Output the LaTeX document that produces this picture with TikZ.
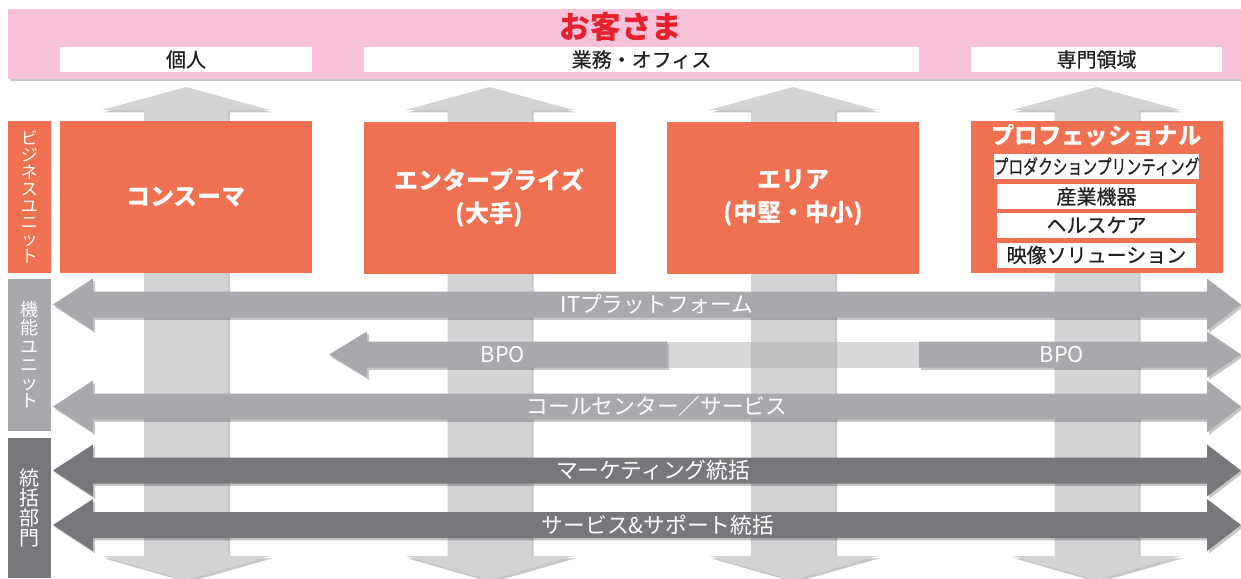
\documentclass[tikz,border=0pt]{standalone}
\usepackage{fontspec}
\setmainfont{Noto Sans CJK JP}
\usetikzlibrary{shadows}
\definecolor{bandpink}{HTML}{F6C1D9}
\definecolor{titlered}{HTML}{E6212B}
\definecolor{unitorange}{HTML}{F07052}
\definecolor{funcgray}{HTML}{A7A9AC}
\definecolor{hqgray}{HTML}{77787B}
\definecolor{pillargray}{HTML}{D1D3D4}
\definecolor{inkblack}{HTML}{231F20}
\newcommand{\pillar}[1]{\fill[pillargray, softshadow] (#1-42,110) -- (#1-84,110) -- (#1,87) -- (#1+84,110) -- (#1+42,110) -- (#1+42,556) -- (#1+84,556) -- (#1,580) -- (#1-84,556) -- (#1-42,556) -- cycle;}
\newcommand{\flowarrow}[4]{\fill[#1, softshadow] (#3,#2) -- (#4,#2-26) -- (#4,#2-13) -- (1207,#2-13) -- (1207,#2-26) -- (1241,#2) -- (1207,#2+26) -- (1207,#2+13) -- (#4,#2+13) -- (#4,#2+26) -- cycle;}
\tikzset{
  softshadow/.style={drop shadow={shadow xshift=1.5pt, shadow yshift=-1.8pt, opacity=0.22, fill=black}},
  unitbox/.style={fill=unitorange, text=white, minimum width=189pt, minimum height=114pt, align=center, inner sep=0pt, font=\fontsize{18}{25}\selectfont\bfseries},
  sidebox/.style={minimum width=32.25pt, text=white, align=center, inner sep=0pt},
  bandlabel/.style={fill=white, text=inkblack, minimum height=18.75pt, inner sep=0pt, font=\fontsize{15}{16}\selectfont\addfontfeature{FakeBold=0.6}},
  fieldlabel/.style={fill=white, text=inkblack, minimum width=149.25pt, minimum height=18.75pt, inner sep=0pt, font=\fontsize{15}{16}\selectfont\addfontfeature{FakeBold=0.4}},
  flowlabel/.style={text=white, inner sep=0pt, font=\fontsize{16.3}{18}\selectfont},
}

\begin{document}
\begin{tikzpicture}[x=0.75pt, y=-0.75pt]
\useasboundingbox (0,0) rectangle (1241,578);
% customers band
\fill[bandpink, softshadow] (8,9) rectangle (1241,79);
\node[text=titlered, font=\fontsize{23}{26}\selectfont\bfseries] (customers) at (621,27) {お客さま};
\node[bandlabel, minimum width=189pt] (personal) at (186,59.5) {個人};
\node[bandlabel, minimum width=416.25pt] (office) at (641.5,59.5) {業務・オフィス};
\node[bandlabel, minimum width=188.25pt] (special) at (1096.5,59.5) {専門領域};
% vertical arrows
\pillar{186}
\pillar{489.5}
\pillar{793}
\pillar{1096.5}
% business units
\node[sidebox, fill=unitorange, minimum height=114pt, font=\fontsize{12.75}{12.6}\selectfont] (bizunit) at (29.5,197) {ビ\\ジ\\ネ\\ス\\ユ\\ニ\\ッ\\ト};
\node[unitbox] (consumer) at (186,197) {コンスーマ};
\node[unitbox] (enterprise) at (489.5,198) {エンタープライズ\\(大手)};
\node[unitbox] (area) at (793,198) {エリア\\(中堅・中小)};
\node[unitbox] (professional) at (1096.5,197) {};
\node[text=white, inner sep=0pt, font=\fontsize{17.5}{20}\selectfont\bfseries] (protitle) at (1096.5,136) {プロフェッショナル};
\node[fieldlabel] (printing) at (1096.5,166.5) {\scalebox{0.74}[1]{プロダクションプリンティング}};
\node[fieldlabel] (industry) at (1096.5,196.5) {産業機器};
\node[fieldlabel] (health) at (1096.5,225) {ヘルスケア};
\node[fieldlabel] (imaging) at (1096.5,255) {映像ソリューション};
% functional units
\node[sidebox, fill=funcgray, minimum height=114pt, font=\fontsize{13.5}{13.7}\selectfont] (funcunit) at (29.5,355) {機\\能\\ユ\\ニ\\ッ\\ト};
\flowarrow{funcgray}{304.5}{53}{93}
\fill[funcgray, softshadow] (329,354.5) -- (367,331.5) -- (367,341.5) -- (667,341.5) -- (667,367.5) -- (367,367.5) -- (367,377.5) -- cycle;
\fill[funcgray, opacity=0.45] (667,341.5) rectangle (919,367.5);
\fill[funcgray, softshadow] (919,341.5) -- (1207,341.5) -- (1207,331.5) -- (1241,354.5) -- (1207,377.5) -- (1207,367.5) -- (919,367.5) -- cycle;
\flowarrow{funcgray}{406.5}{53}{93}
\node[flowlabel] (itplatform) at (657,304.5) {ITプラットフォーム};
\node[flowlabel] (bpoleft) at (503,354.5) {BPO};
\node[flowlabel] (bporight) at (1062,354.5) {BPO};
\node[flowlabel] (callcenter) at (657,406.5) {コールセンター／サービス};
% headquarters
\node[sidebox, fill=hqgray, minimum height=105pt, font=\fontsize{15}{15}\selectfont] (hq) at (29.5,508) {統\\括\\部\\門};
\flowarrow{hqgray}{470.5}{53}{93}
\flowarrow{hqgray}{525}{53}{93}
\node[flowlabel] (marketing) at (653,470.5) {マーケティング統括};
\node[flowlabel] (support) at (658,525) {サービス\&サポート統括};
\end{tikzpicture}
\end{document}
